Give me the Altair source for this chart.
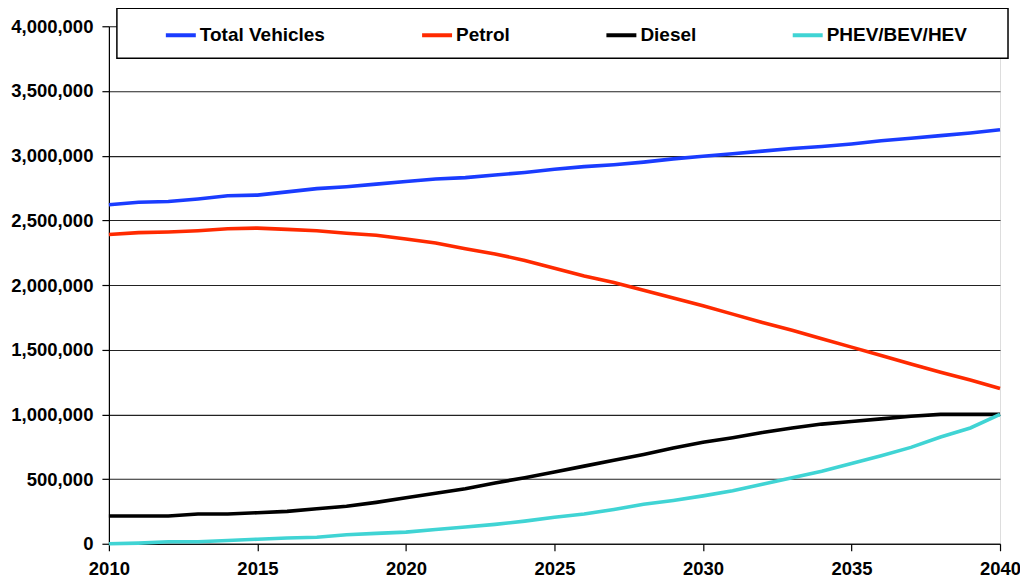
import altair as alt
import pandas as pd

years = list(range(2010, 2041))
series_names = ["Total Vehicles", "Petrol", "Diesel", "PHEV/BEV/HEV"]
series_colors = ["#1a3cff", "#ff2a00", "#000000", "#40d4d4"]

total = [2620000, 2640000, 2645000, 2665000, 2690000, 2695000, 2720000, 2745000,
         2760000, 2780000, 2800000, 2820000, 2830000, 2850000, 2870000, 2895000,
         2915000, 2930000, 2950000, 2975000, 2995000, 3015000, 3035000, 3055000,
         3070000, 3090000, 3115000, 3135000, 3155000, 3175000, 3200000]
petrol = [2390000, 2405000, 2410000, 2420000, 2435000, 2440000, 2430000, 2420000,
          2400000, 2385000, 2355000, 2325000, 2280000, 2240000, 2190000, 2130000,
          2070000, 2020000, 1960000, 1900000, 1840000, 1775000, 1710000, 1650000,
          1585000, 1520000, 1455000, 1390000, 1325000, 1265000, 1200000]
diesel = [215000, 215000, 215000, 230000, 230000, 240000, 250000, 270000,
          290000, 320000, 355000, 390000, 425000, 470000, 510000, 555000,
          600000, 645000, 690000, 740000, 785000, 820000, 860000, 895000,
          925000, 945000, 965000, 985000, 1000000, 1000000, 1000000]
phev = [0, 5000, 15000, 15000, 25000, 35000, 45000, 50000,
        70000, 80000, 90000, 110000, 130000, 150000, 175000, 205000,
        230000, 265000, 305000, 335000, 370000, 410000, 460000, 510000,
        560000, 620000, 680000, 745000, 825000, 895000, 1000000]

y_ticks = list(range(0, 4000001, 500000))
x_ticks = [2010, 2015, 2020, 2025, 2030, 2035, 2040]

rows = []
for name, vals in zip(series_names, [total, petrol, diesel, phev]):
    for yr, v in zip(years, vals):
        rows.append({"Year": yr, "Vehicles": v, "Series": name})
df = pd.DataFrame(rows)

FONT = "Liberation Sans"

lines = alt.Chart(df).mark_line(strokeWidth=3.6).encode(
    x=alt.X("Year:Q",
            scale=alt.Scale(domain=[2010, 2040], nice=False, zero=False),
            axis=alt.Axis(values=x_ticks, format="d", title=None, grid=False,
                          tickSize=7, labelPadding=9, labelFontSize=18.5,
                          labelFontWeight="bold", labelFont=FONT,
                          labelColor="#000", domainColor="#000", tickColor="#000",
                          domainWidth=1.2, tickWidth=1.2, labelFlush=False)),
    y=alt.Y("Vehicles:Q",
            scale=alt.Scale(domain=[0, 4000000], nice=False),
            axis=alt.Axis(values=y_ticks, format=",d", title=None, grid=True,
                          gridColor="#222", gridWidth=1.1, tickSize=7,
                          labelPadding=9, labelFontSize=18.5,
                          labelFontWeight="bold", labelFont=FONT,
                          labelColor="#000", domainColor="#000", tickColor="#000",
                          domainWidth=1.2, tickWidth=1.2)),
    color=alt.Color("Series:N",
                    scale=alt.Scale(domain=series_names, range=series_colors),
                    sort=series_names,
                    legend=alt.Legend(orient="none", direction="horizontal",
                                      columns=4, legendX=55, legendY=-8,
                                      title=None, symbolType="stroke",
                                      symbolSize=900, symbolStrokeWidth=4,
                                      labelFontSize=19, labelFontWeight="bold",
                                      labelFont=FONT, labelColor="#000",
                                      labelOffset=2, columnPadding=88.5,
                                      padding=0, offset=0,
                                      labelLimit=400)),
)

box = alt.Chart(pd.DataFrame({"a": [0]})).mark_rect(
    fill="white", stroke="#000", strokeWidth=1.5
).encode(
    x=alt.value(8), x2=alt.value(900), y=alt.value(-18), y2=alt.value(32)
)

chart = alt.layer(lines, box).properties(
    width=892, height=518,
    autosize=alt.AutoSizeParams(type="none"),
    padding={"left": 101, "top": 18, "right": 20, "bottom": 35},
).configure_view(stroke=None).configure(background="white")

chart.save("out.html", embed_options={"renderer": "svg", "actions": False})
